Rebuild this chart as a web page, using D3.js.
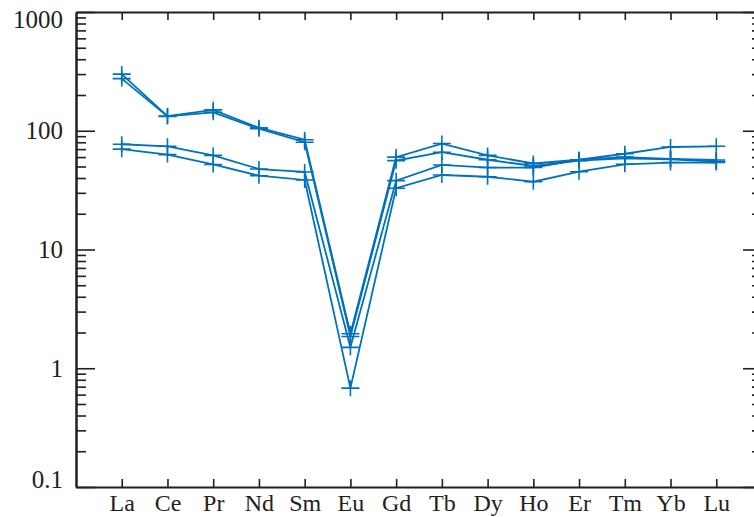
<!DOCTYPE html>
<html>
<head>
<meta charset="utf-8">
<script src="https://cdn.jsdelivr.net/npm/d3@7/dist/d3.min.js"></script>
<style>
  body { margin: 0; background: #fff; }
</style>
</head>
<body>
<div id="chart"></div>
<script>
// REE elements (x categories)
const elements = ['La', 'Ce', 'Pr', 'Nd', 'Sm', 'Eu', 'Gd', 'Tb', 'Dy', 'Ho', 'Er', 'Tm', 'Yb', 'Lu'];

// chondrite-normalised values, one array per sample
const sample1 = [300, 133, 150, 106, 84, 1.95, 60, 78, 62, 53, 57, 64, 73, 74];
const sample2 = [275, 132, 143, 104, 80, 1.85, 56, 66, 57, 50.5, 56, 58.6, 57.5, 55];
const sample3 = [77, 74, 62, 47.6, 45, 1.5, 38, 51.5, 49, 49, 57, 60, 58, 56.7];
const sample4 = [70, 63, 52, 41.8, 38.5, 0.68, 32.8, 42.4, 41, 37.2, 45.2, 52.2, 54, 54];

const yTicks = [0.1, 1, 10, 100, 1000];

const samples = [sample1, sample2, sample3, sample4];

const W = 754, H = 517;
const mLeft = 76, mRight = 762, mTop = 12, mBottom = 487;
const ink = '#231f20', blue = '#0071bc';
const serif = '"Liberation Serif", "Times New Roman", Times, serif';

const svg = d3.select('#chart').append('svg')
  .attr('width', W).attr('height', H);

// x: index 0..15, elements sit on 1..14
const x = d3.scaleLinear().domain([0, elements.length + 1]).range([mLeft, mRight]);
const y = d3.scaleLog().domain([0.1, 1000]).range([mBottom, mTop]);

let minorVals = [];
yTicks.slice(0, -1).forEach(d => {
  for (let k = 2; k <= 9; k++) minorVals.push(d * k);
});

let styleAxis = g => {
  g.attr('font-family', serif);
  g.selectAll('path').attr('stroke', ink).attr('stroke-width', 2);
  g.selectAll('line').attr('stroke', ink).attr('stroke-width', 1.6);
  g.selectAll('text').attr('fill', ink).attr('font-family', serif);
};

// left axis
svg.append('g').attr('transform', `translate(${mLeft},0)`)
  .call(d3.axisLeft(y).tickValues(minorVals).tickSizeInner(-10).tickSizeOuter(0).tickFormat(''))
  .call(styleAxis);
let yl = svg.append('g').attr('transform', `translate(${mLeft},0)`)
  .call(d3.axisLeft(y).tickValues(yTicks).tickSizeInner(-19).tickSizeOuter(0).tickPadding(13)
    .tickFormat(d => d3.format('')(d)))
  .call(styleAxis);
yl.selectAll('text')
  .attr('font-size', 25)
  .attr('dy', d => d == 1000 ? '0.6em' : d == 0.1 ? '0.02em' : '0.32em');

// right axis
svg.append('g').attr('transform', `translate(${mRight},0)`)
  .call(d3.axisRight(y).tickValues(minorVals).tickSizeInner(-10).tickSizeOuter(0).tickFormat(''))
  .call(styleAxis);
svg.append('g').attr('transform', `translate(${mRight},0)`)
  .call(d3.axisRight(y).tickValues(yTicks).tickSizeInner(-19).tickSizeOuter(0).tickFormat(''))
  .call(styleAxis);

// bottom axis with element labels
let xb = svg.append('g').attr('transform', `translate(0,${mBottom})`)
  .call(d3.axisBottom(x).tickValues(d3.range(1, elements.length + 1))
    .tickSizeInner(-8).tickSizeOuter(0).tickPadding(7)
    .tickFormat(d => elements[d - 1]))
  .call(styleAxis);
xb.selectAll('text').attr('font-size', 24);

// top axis
svg.append('g').attr('transform', `translate(0,${mTop})`)
  .call(d3.axisTop(x).tickValues(d3.range(1, elements.length + 1))
    .tickSizeInner(-8).tickSizeOuter(0).tickFormat(''))
  .call(styleAxis);

// sample lines
let line = d3.line()
  .x((d, i) => x(i + 1))
  .y(d => y(d));

let series = svg.append('g').attr('class', 'series');

samples.forEach(s => {
  series.append('path')
    .datum(s)
    .attr('d', line)
    .attr('fill', 'none')
    .attr('stroke', blue)
    .attr('stroke-width', 1.8);

  // '+' markers
  series.selectAll(null)
    .data(s)
    .enter()
    .append('path')
      .attr('d', (d, i) => {
        let cx = x(i + 1), cy = y(d);
        return `M${cx - 9},${cy}H${cx + 9}M${cx},${cy - 8}V${cy + 8}`;
      })
      .attr('stroke', blue)
      .attr('stroke-width', 1.6)
      .attr('fill', 'none');
});
</script>
</body>
</html>
